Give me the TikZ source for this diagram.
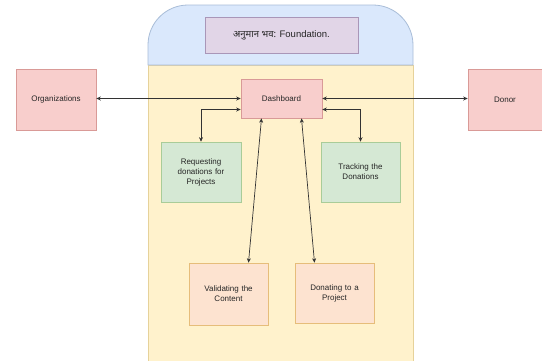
\documentclass[tikz,border=0pt]{standalone}
\usepackage{fontspec}
\setmainfont{Liberation Sans}
\newfontfamily\devfont[Script=Devanagari]{Noto Sans}
\usetikzlibrary{arrows.meta}
\definecolor{pinkfill}{HTML}{F8CECC}
\definecolor{pinkline}{HTML}{D99A97}
\definecolor{greenfill}{HTML}{D5E8D4}
\definecolor{greenline}{HTML}{A9CC98}
\definecolor{peachfill}{HTML}{FDE3D0}
\definecolor{peachline}{HTML}{E6BD7A}
\definecolor{purplefill}{HTML}{E1D5E7}
\definecolor{purpleline}{HTML}{A996B8}
\definecolor{bluefill}{HTML}{DAE8FC}
\definecolor{blueline}{HTML}{A9BDD8}
\definecolor{yellowfill}{HTML}{FFF2CC}
\definecolor{yellowline}{HTML}{E6D29A}
\tikzset{
  x=1pt, y=-1pt,
  box/.style={draw, line width=0.6pt, align=center, font=\fontsize{8}{10}\selectfont, inner sep=2pt, text=black!85},
  pinkbox/.style={box, fill=pinkfill, draw=pinkline},
  greenbox/.style={box, fill=greenfill, draw=greenline},
  peachbox/.style={box, fill=peachfill, draw=peachline},
  link/.style={draw=black!80, line width=0.7pt, {Stealth[length=4.5pt,width=4pt]}-{Stealth[length=4.5pt,width=4pt]}}
}
\begin{document}
\begin{tikzpicture}
\useasboundingbox (0,0) rectangle (542,360);
\fill[white] (0,0) rectangle (542,360);
% container body
\filldraw[fill=yellowfill, draw=yellowline, line width=0.8pt] (148,65) rectangle (413,363);
% header
\filldraw[fill=bluefill, draw=blueline, line width=0.8pt] (148,65) [rounded corners=40pt] -- (148,5) -- (413,5) [sharp corners] -- (413,65) -- cycle;
\node[box, fill=purplefill, draw=purpleline, minimum width=153pt, minimum height=36pt, font=\fontsize{9.5}{11}\selectfont] (title) at (281.5,35) {{\devfont अनुमान भव:} Foundation.};
% nodes
\node[pinkbox, minimum width=80pt, minimum height=61pt] (org) at (56,99.5) {Organizations};
\node[pinkbox, minimum width=74pt, minimum height=61pt] (donor) at (505,99.5) {Donor};
\node[pinkbox, minimum width=81pt, minimum height=39pt] (dash) at (281.5,98.5) {Dashboard};
\node[greenbox, minimum width=80pt, minimum height=60pt, text width=72pt] (req) at (201,172) {Requesting\\donations for\\Projects};
\node[greenbox, minimum width=79pt, minimum height=60pt, text width=72pt] (track) at (360.5,172) {Tracking the\\Donations};
\node[peachbox, minimum width=79pt, minimum height=62pt, text width=72pt] (val) at (228.5,294) {Validating the\\Content};
\node[peachbox, minimum width=79pt, minimum height=60pt, text width=72pt] (don) at (334.5,293) {Donating to a\\Project};
% connectors
\draw[link] (org.east |- dash.west) -- (dash.west);
\draw[link] (dash.east) -- (donor.west |- dash.east);
\draw[link] ([yshift=-11pt]dash.west) -| (req.north);
\draw[link] ([yshift=-11pt]dash.east) -| (track.north);
\draw[link] ([xshift=-20pt]dash.south) -- ([xshift=20pt]val.north);
\draw[link] ([xshift=20pt]dash.south) -- ([xshift=-20pt]don.north);
\end{tikzpicture}
\end{document}
